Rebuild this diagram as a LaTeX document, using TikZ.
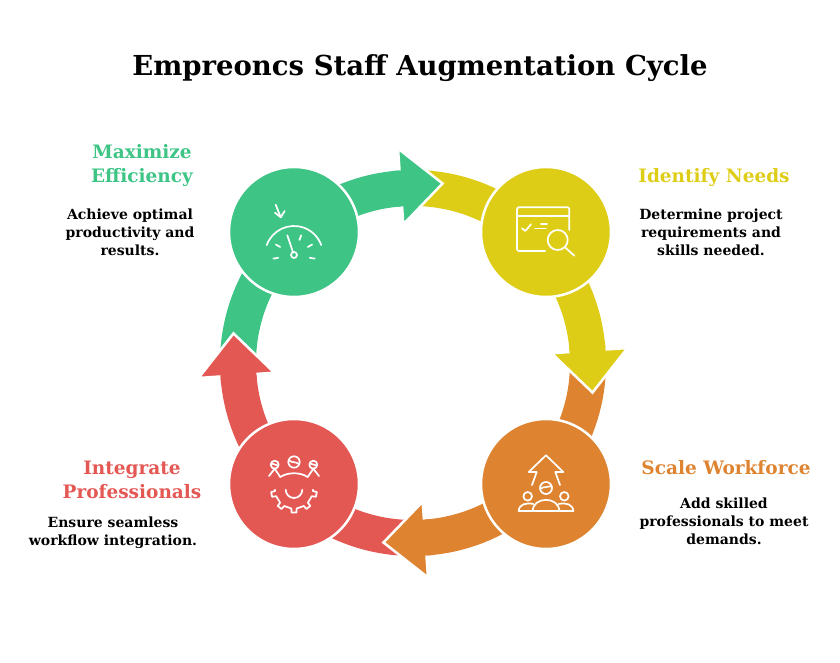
\documentclass[tikz,border=0pt]{standalone}
\usepackage{fontspec}
\setmainfont{DejaVu Serif}
\usetikzlibrary{positioning}
\definecolor{cgreen}{RGB}{62,197,134}
\definecolor{cyellow}{RGB}{222,205,22}
\definecolor{corange}{RGB}{222,132,49}
\definecolor{cred}{RGB}{228,88,84}
\tikzset{
  stage/.style={circle, draw=white, line width=2.5, minimum size=130, inner sep=0},
  head/.style={align=center, inner sep=0, font=\bfseries\fontsize{18.5}{24}\selectfont},
  desc/.style={align=center, inner sep=0, font=\bfseries\fontsize{14}{18}\selectfont},
  icon/.style={white, line width=1.7, line cap=round, line join=round},
}
\begin{document}
\begin{tikzpicture}[x=1pt,y=1pt]
  \useasboundingbox (0,0) rectangle (840,663);
  \coordinate (cyc) at (413,300);
  % ring bodies
  \foreach \a/\b/\col in {184/94/cgreen, 94/4/cyellow, 4/-86/corange, 274/184/cred}
    \draw[\col, line width=36] ([shift={(\a:175)}]cyc) arc[start angle=\a, end angle=\b, radius=175];
  % heads
  \foreach \b/\col in {94/cgreen, 4/cyellow, -86/corange, 184/cred}
    \filldraw[fill=\col, draw=white, line width=2.5, line join=miter]
      ([shift={(\b:215)}]cyc) -- ([shift={(\b:139)}]cyc)
      -- ([shift={(\b:177)},shift={(\b-90:42)}]cyc) -- cycle;
  \foreach \b/\col in {94/cgreen, 4/cyellow, -86/corange, 184/cred}
    \draw[\col, line width=36] ([shift={(\b+2:175)}]cyc) arc[start angle=\b+2, end angle=\b-3, radius=175];
  % stages
  \node[stage, fill=cgreen] (green) at (294,431) {};
  \node[stage, fill=cyellow] (yellow) at (546,431) {};
  \node[stage, fill=corange] (orange) at (546,179) {};
  \node[stage, fill=cred] (red) at (294,179) {};
  % gauge
  \begin{scope}[shift={(green)}, icon]
    \draw (0,-23) ++(160:29) arc[start angle=160, end angle=20, radius=29];
    \draw (0,-23) circle[radius=3];
    \draw (-1,-20.2) -- (-6.7,-3.3);
    \foreach \t in {-10,30,70,150,190}
      \draw ([shift={(\t:16)}]0,-23) -- ([shift={(\t:21)}]0,-23);
    \draw (-18.3,27.3) -- (-13.3,14.7);
    \draw (-19,19.3) -- (-13.3,14.7) -- (-9.3,21);
  \end{scope}
  % search
  \begin{scope}[shift={(yellow)}, icon]
    \draw[rounded corners=2] (23.3,2) -- (23.3,24.7) -- (-29,24.7) -- (-29,-19) -- (-0.7,-19);
    \draw (-29,16) -- (23.3,16);
    \draw (-24,3.7) -- (-20.7,1) -- (-15,7.7);
    \draw (-5,8) -- (1,8);
    \draw (-11,3.5) -- (0,3.5);
    \draw (11.7,-8) circle[radius=10];
    \draw (19,-15.3) -- (28.3,-23.7);
  \end{scope}
  % team
  \begin{scope}[shift={(orange)}, icon]
    \draw (-14,-1) -- (-9.3,12) -- (-17.3,12) -- (0,28.7) -- (17.3,12) -- (9.3,12) -- (14,-1);
    \draw (0,-4) circle[radius=6];
    \draw (-5.5,-4.5) .. controls (-1,-2) and (2,-4) .. (5.5,-2);
    \draw (-13.3,-27.3) .. controls (-13.3,-12) and (13.3,-12) .. (13.3,-27.3);
    \draw (-27.3,-27.3) -- (27.3,-27.3);
    \draw (-18.3,-12.3) circle[radius=4.3];
    \draw (18.3,-12.3) circle[radius=4.3];
    \draw (-27.3,-27.3) .. controls (-27,-20) and (-20,-18.5) .. (-12.5,-20);
    \draw (27.3,-27.3) .. controls (27,-20) and (20,-18.5) .. (12.5,-20);
  \end{scope}
  % gear
  \begin{scope}[shift={(red)}, icon]
    \draw (0,22) circle[radius=5.7];
    \draw (-5,23.5) .. controls (-2,21) and (2,22.5) .. (5,20);
    \draw (-19.3,19.3) circle[radius=4];
    \draw (-22.5,20.5) -- (-16,18.5);
    \draw (19.3,19.3) circle[radius=4];
    \draw (16,20.5) -- (22.5,18.5);
    \draw (-25,8) -- (-19.3,15.3) -- (-13.7,7);
    \draw (25,8) -- (19.3,15.3) -- (13.7,7);
    \draw (-13.7,7) .. controls (-6,12) and (6,12) .. (13.7,7);
    \draw (-8.3,-5.7) arc[start angle=180, end angle=360, radius=8.3];
    \begin{scope}[shift={(0,-5.7)}]
      \draw (180:19) \foreach \t in {192,231,270,309,348} { -- (\t-8:19) -- (\t-6:23) -- (\t+6:23) -- (\t+8:19) } -- (360:19);
    \end{scope}
  \end{scope}
  % title
  \node[inner sep=0, anchor=base, font=\bfseries\fontsize{27.5}{33}\selectfont] (title) at (420,587) {Empreoncs Staff Augmentation Cycle};
  % texts
  \node[desc, left of=green, node distance=164] (maxdesc) {Achieve optimal\\productivity and\\results.};
  \node[head, cgreen, above of=maxdesc, node distance=66, xshift=12] (maxhead) {Maximize\\Efficiency};
  \node[desc, right of=yellow, node distance=165] (iddesc) {Determine project\\requirements and\\skills needed.};
  \node[head, cyellow, above of=iddesc, node distance=54, xshift=3] (idhead) {Identify Needs};
  \node[desc, right of=orange, node distance=178, yshift=-37.5] (scdesc) {Add skilled\\professionals to meet\\demands.};
  \node[head, corange, above of=scdesc, node distance=53.5, xshift=2] (schead) {Scale Workforce};
  \node[desc, left of=red, node distance=181, yshift=-48.5] (intdesc) {Ensure seamless\\workflow integration.};
  \node[head, cred, above of=intdesc, node distance=52.5, xshift=19] (inthead) {Integrate\\Professionals};
\end{tikzpicture}
\end{document}
